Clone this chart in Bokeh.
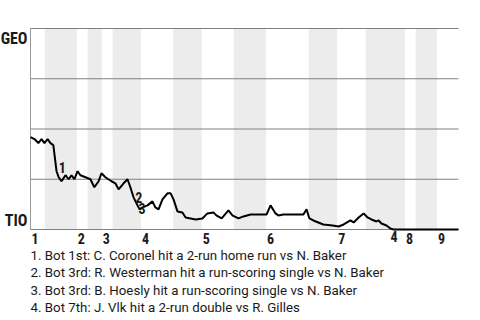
from bokeh.plotting import figure
from bokeh.models import ColumnDataSource, LabelSet, Label, Range1d
from bokeh.core.properties import value
from bokeh.embed import file_html
from bokeh.resources import INLINE

# ---- data ----
inning_starts = [0, 13, 20, 31, 48, 66, 86, 105, 114]
inning_labels = ["1", "2", "3", "4", "5", "6", "7", "8", "9"]
bottom_starts = [4, 16, 23, 40, 57, 78, 94, 108]
game_end = 120

teams = ["GEO", "TIO"]
grid_levels = [0, 0.25, 0.5, 0.75, 1]

play_x = [0.0, 1.1, 2.2, 3.1, 3.9, 4.8, 5.6, 6.4, 7.3, 7.9, 8.7, 9.8, 10.7, 11.5,
          12.3, 13.2, 14.0, 15.4, 16.8, 17.9, 19.1, 19.9, 21.0, 22.7, 23.8, 24.7,
          26.1, 27.2, 28.0, 28.9, 30.0, 30.6, 31.4, 32.8, 34.2, 35.0, 35.9, 37.0,
          38.4, 39.3, 40.1, 41.2, 42.6, 43.5, 44.9, 46.3, 48.2, 49.6, 51.3, 52.1,
          53.6, 55.5, 56.6, 58.3, 59.7, 61.7, 66.2, 67.3, 68.7, 69.5, 70.9, 76.5,
          77.4, 78.2, 79.3, 82.1, 84.7, 86.4, 87.8, 89.7, 90.6, 92.0, 93.4, 94.5,
          95.6, 97.0, 97.6, 98.4, 99.8, 100.9, 101.8, 120.0]
win_prob = [0.46, 0.45, 0.43, 0.45, 0.43, 0.45, 0.43, 0.42, 0.29, 0.26, 0.24, 0.27,
            0.25, 0.27, 0.25, 0.29, 0.27, 0.26, 0.25, 0.21, 0.24, 0.28, 0.26, 0.24,
            0.23, 0.20, 0.23, 0.25, 0.21, 0.16, 0.12, 0.10, 0.11, 0.12, 0.14, 0.11,
            0.10, 0.15, 0.18, 0.18, 0.15, 0.09, 0.085, 0.06, 0.055, 0.05, 0.055, 0.08,
            0.085, 0.07, 0.055, 0.095, 0.07, 0.055, 0.065, 0.075, 0.075, 0.12, 0.08,
            0.07, 0.075, 0.075, 0.10, 0.055, 0.045, 0.025, 0.02, 0.015, 0.025, 0.045,
            0.035, 0.06, 0.08, 0.06, 0.05, 0.04, 0.045, 0.03, 0.02, 0.005, 0.0, 0.0]

event_labels = ["1", "2", "3", "4"]
event_x = [7.9, 29.4, 30.3, 100.9]
event_y = [0.308, 0.159, 0.104, -0.035]
event_texts = [
    "Bot 1st: C. Coronel hit a 2-run home run vs N. Baker",
    "Bot 3rd: R. Westerman hit a run-scoring single vs N. Baker",
    "Bot 3rd: B. Hoesly hit a run-scoring single vs N. Baker",
    "Bot 7th: J. Vlk hit a 2-run double vs R. Gilles",
]

# ---- layout (pixels) ----
W, H = 480, 320
PL, PR, PT, PB = 30, 22, 28, 91        # plot-area margins
sx = (W - PL - PR) / game_end          # px per play
sy = (H - PT - PB) / 1.0               # px per unit probability
x_range = Range1d(-PL / sx, (W - PL) / sx)
y_range = Range1d(-PB / sy, (H - PB) / sy)

COND = "Roboto Condensed"
TXT = "#1a1a1a"

p = figure(width=W, height=H, output_backend="svg", toolbar_location=None,
           x_range=x_range, y_range=y_range, min_border=0,
           background_fill_color="white", border_fill_color="white")
p.outline_line_color = None
p.axis.visible = False
p.grid.visible = False

# shaded bottom halves
p.quad(left=bottom_starts, right=inning_starts[1:], bottom=0, top=1,
       fill_color="#ececec", line_color=None)

# horizontal grid lines and left rule
p.segment(x0=[0] * len(grid_levels), x1=[game_end] * len(grid_levels),
          y0=grid_levels, y1=grid_levels, line_color="#808080", line_width=1)
p.segment(x0=[0], x1=[0], y0=[0], y1=[1], line_color="#9a9a9a", line_width=1)

p.line(play_x, win_prob, line_color="black", line_width=2)

# inning labels
inn_src = ColumnDataSource(dict(x=inning_starts, y=[0] * len(inning_starts),
                                t=inning_labels))
p.add_layout(LabelSet(x="x", y="y", text="t", source=inn_src, x_offset=1,
                      y_offset=-3, text_align="left", text_baseline="top",
                      text_font=value(COND), text_font_style="bold",
                      text_font_size="14px", text_color=TXT))

# team labels
p.add_layout(Label(x=0, y=1, text=teams[0], x_offset=-3, text_align="right",
                   text_baseline="top", text_font=COND,
                   text_font_style="bold", text_font_size="16px", text_color=TXT))
p.add_layout(Label(x=0, y=0, text=teams[1], x_offset=-3, text_align="right",
                   text_baseline="bottom", text_font=COND,
                   text_font_style="bold", text_font_size="16px", text_color=TXT))

# event markers
ev_src = ColumnDataSource(dict(x=event_x, y=event_y, t=event_labels))
p.add_layout(LabelSet(x="x", y="y", text="t", source=ev_src, text_align="left",
                      text_baseline="middle", text_font=value(COND),
                      text_font_style="bold", text_font_size="14px",
                      text_color=TXT))

# event list below the chart
lines = [f"{n}. {t}" for n, t in zip(event_labels, event_texts)]
leg_src = ColumnDataSource(dict(x=[0] * len(lines), y=[0] * len(lines), t=lines,
                                off=[-(26 + 17.4 * i) for i in range(len(lines))]))
p.add_layout(LabelSet(x="x", y="y", text="t", source=leg_src, y_offset="off",
                      text_align="left", text_baseline="middle",
                      text_font=value("Roboto"), text_font_size="13.3px",
                      text_color=TXT))

open("out.html", "w").write(file_html(p, INLINE))
